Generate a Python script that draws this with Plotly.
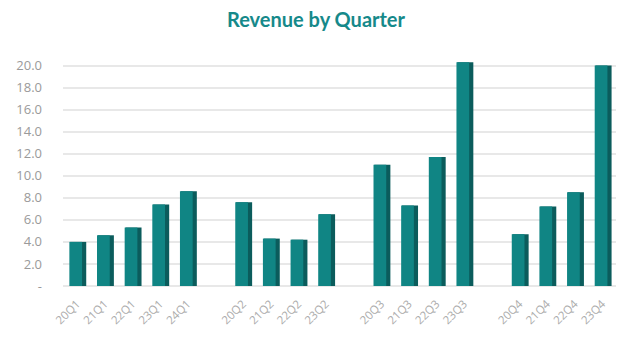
import plotly.graph_objects as go

# ---- data ----
groups = [
    ["20Q1", "21Q1", "22Q1", "23Q1", "24Q1"],
    ["20Q2", "21Q2", "22Q2", "23Q2"],
    ["20Q3", "21Q3", "22Q3", "23Q3"],
    ["20Q4", "21Q4", "22Q4", "23Q4"],
]
values = [
    [4.0, 4.6, 5.3, 7.4, 8.6],
    [7.6, 4.3, 4.2, 6.5],
    [11.0, 7.3, 11.7, 20.3],
    [4.7, 7.2, 8.5, 20.0],
]
y_tickvals = [0, 2, 4, 6, 8, 10, 12, 14, 16, 18, 20]
y_ticktext = ["-", "2.0", "4.0", "6.0", "8.0", "10.0", "12.0", "14.0", "16.0", "18.0", "20.0"]
title_text = "Revenue by Quarter"

# positions: consecutive slots with a one-slot gap between groups
xs, ys, labels = [], [], []
slot = 0
for gi, (g, v) in enumerate(zip(groups, values)):
    for lab, val in zip(g, v):
        xs.append(slot)
        ys.append(val)
        labels.append(lab)
        slot += 1
    slot += 1

fig = go.Figure()
# darker side face (3D illusion)
fig.add_trace(go.Bar(
    x=xs, y=ys, width=0.58, offset=-0.24,
    marker=dict(color="#0b5c5c", line=dict(width=0)),
    hoverinfo="skip", showlegend=False,
))
# front face
fig.add_trace(go.Bar(
    x=xs, y=ys, width=0.46, offset=-0.27,
    marker=dict(color="#108584", line=dict(width=0)),
    showlegend=False,
))

fig.update_layout(
    width=632, height=340,
    margin=dict(l=63, r=16, t=60, b=54),
    paper_bgcolor="white", plot_bgcolor="white",
    barmode="overlay",
    title=dict(text="<b>" + title_text + "</b>", x=0.5, xanchor="center",
               y=0.94, yanchor="middle",
               font=dict(family="Lato", size=20, color="#16898a")),
    font=dict(family="Open Sans", color="#a8a8a8"),
)
fig.update_xaxes(
    range=[-0.5, slot - 1.5],
    tickmode="array", tickvals=xs, ticktext=labels,
    tickangle=-45, tickfont=dict(size=11.5, color="#ababab"),
    showgrid=False, zeroline=False, showline=False, ticks="",
    ticklabelstandoff=8,
)
fig.update_yaxes(
    range=[0, 20.5],
    tickmode="array", tickvals=y_tickvals, ticktext=y_ticktext,
    tickfont=dict(size=13, color="#9a9a9a"),
    showgrid=True, gridcolor="#e8e8e8", gridwidth=2,
    zeroline=True, zerolinecolor="#e8e8e8", zerolinewidth=2,
    showline=False, ticks="", ticklabelstandoff=20,
)

fig.write_html("out.html")
